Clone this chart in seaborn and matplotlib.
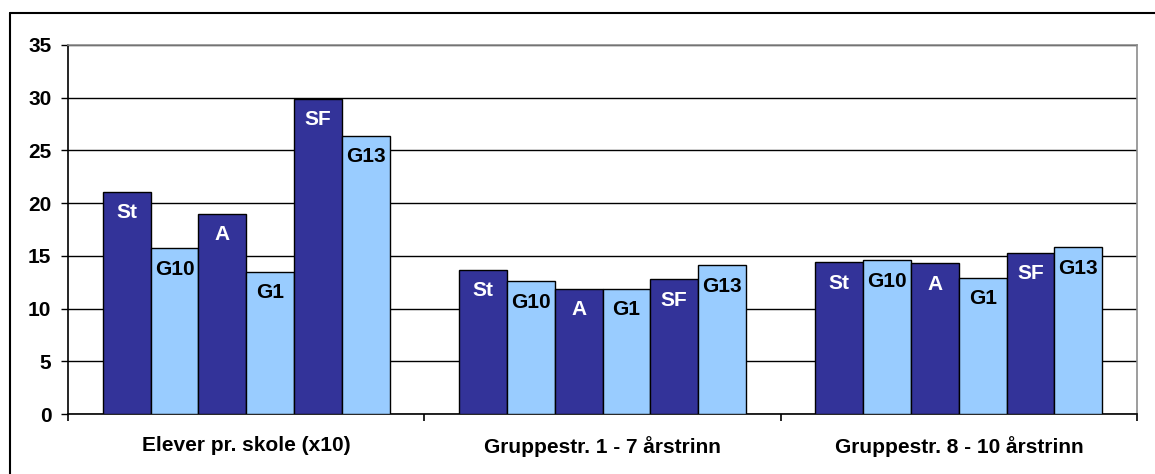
import matplotlib
matplotlib.use("Agg")
import matplotlib.pyplot as plt
from matplotlib.lines import Line2D
import seaborn as sns
import pandas as pd
import numpy as np

categories = ["Elever pr. skole (x10)", "Gruppestr. 1 - 7 årstrinn", "Gruppestr. 8 - 10 årstrinn"]
series = ["St", "G10", "A", "G1", "SF", "G13"]
values = {
    "St":  [21.1, 13.7, 14.4],
    "G10": [15.7, 12.6, 14.6],
    "A":   [19.0, 11.9, 14.3],
    "G1":  [13.5, 11.9, 12.9],
    "SF":  [29.9, 12.8, 15.3],
    "G13": [26.4, 14.1, 15.8],
}
y_ticks = [0, 5, 10, 15, 20, 25, 30, 35]

dark = "#333399"
light = "#99CCFF"
palette = {s: (dark if i % 2 == 0 else light) for i, s in enumerate(series)}
label_colors = {s: ("white" if i % 2 == 0 else "black") for i, s in enumerate(series)}

rows = [(c, s, values[s][j]) for s in series for j, c in enumerate(categories)]
df = pd.DataFrame(rows, columns=["kategori", "gruppe", "verdi"])

sns.set_theme(style="white")
plt.rcParams["font.family"] = ["Liberation Sans", "DejaVu Sans"]
plt.rcParams["font.weight"] = "bold"

FS = 15

W, H = 1155, 474
fig = plt.figure(figsize=(W / 100, H / 100), dpi=100)
ax = fig.add_axes([68 / W, (H - 414) / H, (1137 - 68) / W, (414 - 45) / H])

sns.barplot(data=df, x="kategori", y="verdi", hue="gruppe", order=categories,
            hue_order=series, palette=palette, width=0.805, saturation=1,
            edgecolor="black", linewidth=1.0, legend=False, ax=ax, zorder=3)

# labels inside the top of each bar
for s, cont in zip(series, ax.containers):
    for patch in cont:
        x = patch.get_x() + patch.get_width() / 2
        ax.annotate(s, xy=(x, patch.get_height()), xytext=(0, -21),
                    textcoords="offset pixels", ha="center", va="center",
                    fontsize=FS, fontweight="bold", color=label_colors[s],
                    zorder=5)

ax.set_ylim(0, 35)
ax.set_xlim(-0.5, 2.5)
ax.set_yticks(y_ticks)
ax.set_yticklabels([str(t) for t in y_ticks], fontsize=FS, fontweight="bold")
ax.yaxis.grid(True, color="black", linewidth=1.0, zorder=0)
ax.set_axisbelow(True)

ax.set_xticks(range(len(categories)))
ax.set_xticklabels(categories, fontsize=FS, fontweight="bold")
ax.set_xticks([-0.5, 0.5, 1.5, 2.5], minor=True)
ax.tick_params(axis="x", which="major", length=0, pad=16, colors="black")
ax.tick_params(axis="x", which="minor", length=5, width=1.2, direction="out",
               color="black", bottom=True)
ax.tick_params(axis="y", which="major", length=5, width=1.0, direction="out",
               pad=7, color="black", left=True, colors="black")
ax.set_xlabel("")
ax.set_ylabel("")

for side in ["left", "bottom"]:
    ax.spines[side].set_color("black")
    ax.spines[side].set_linewidth(1.2)
for side in ["top", "right"]:
    ax.spines[side].set_color("#8c8c8c")
    ax.spines[side].set_linewidth(1.2)
    ax.spines[side].set_visible(True)

# outer chart frame
fig.add_artist(Line2D([10 / W, 1.0], [1 - 13 / H, 1 - 13 / H], color="black",
                      linewidth=1.5, transform=fig.transFigure))
fig.add_artist(Line2D([10 / W, 10 / W], [0.0, 1 - 13 / H], color="black",
                      linewidth=1.5, transform=fig.transFigure))

fig.savefig("out.png", dpi=100, facecolor="white")
